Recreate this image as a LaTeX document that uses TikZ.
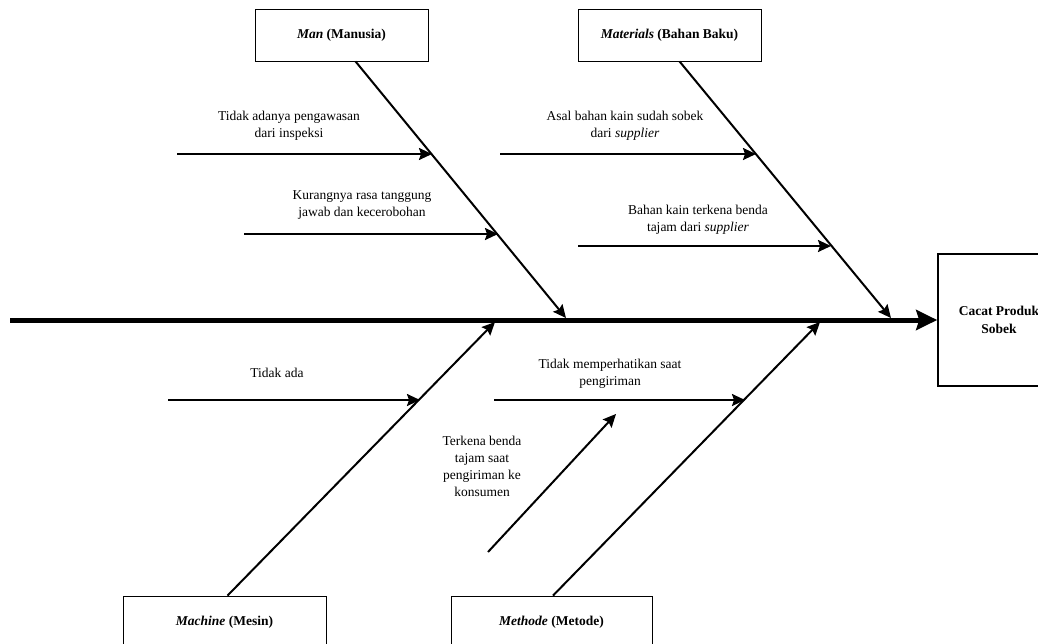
\documentclass[tikz,border=0pt]{standalone}
\usepackage{fontspec}
\setmainfont{Liberation Serif}
\usetikzlibrary{arrows.meta}
\usetikzlibrary{positioning}
\tikzset{cause node/.style={rectangle,draw,line width=0.8pt,minimum height=52pt,inner sep=0pt,font=\fontsize{13.5}{17.5}\selectfont\bfseries},
  effect node/.style={rectangle,draw,line width=1.6pt,minimum width=122pt,minimum height=132pt,align=center,inner sep=0pt,font=\fontsize{13.5}{17.5}\selectfont\bfseries},
  sub node/.style={align=center,inner sep=0pt,font=\fontsize{13.5}{17}\selectfont},
  spine/.style={line width=5pt,-{Stealth[length=21pt,width=20pt,inset=3pt]}},
  bone/.style={line width=2pt,-{Stealth[length=13pt,width=12pt,inset=2pt]}},}

\begin{document}
\begin{tikzpicture}[x=1pt,y=-1pt]
          \clip (0,0) rectangle (1038,643);
          \node[cause node,minimum width=173pt] (man) at (341.5,35) {\textit{Man} (Manusia)};
          \node[cause node,minimum width=183pt] (mat) at (669.5,35) {\textit{Materials} (Bahan Baku)};
          \node[cause node,minimum width=203pt] (mach) at (224.5,622) {\textit{Machine} (Mesin)};
          \node[cause node,minimum width=201pt] (meth) at (551.5,622) {\textit{Methode} (Metode)};
          \node[effect node] (eff) at (999,320) {Cacat Produk\\Sobek};

          % spine and main bones
          \coordinate (tail) at (10,320);
          \coordinate (manend) at (566,318);
          \coordinate (matend) at (891,318);
          \coordinate (machend) at (495,322);
          \coordinate (methend) at (820,322);
          \draw[spine] (tail) -- (eff.west);
          \draw[bone] ([xshift=14pt]man.south) -- (manend);
          \draw[bone] ([xshift=10pt]mat.south) -- (matend);
          \draw[bone] ([xshift=3pt]mach.north) -- (machend);
          \draw[bone] ([xshift=1.5pt]meth.north) -- (methend);

          % sub causes
          \coordinate (a1) at (177,154);  \coordinate (b1) at (432,154);
          \coordinate (a2) at (244,234);  \coordinate (b2) at (498,234);
          \coordinate (a3) at (500,154);  \coordinate (b3) at (756,154);
          \coordinate (a4) at (578,246);  \coordinate (b4) at (831,246);
          \coordinate (a5) at (168,400);  \coordinate (b5) at (420,400);
          \coordinate (a6) at (494,400);  \coordinate (b6) at (745,400);
          \coordinate (a7) at (488,552);  \coordinate (b7) at (616,414);
          \path[bone]
          (a1) edge (b1)
          (a2) edge (b2)
          (a3) edge (b3)
          (a4) edge (b4)
          (a5) edge (b5)
          (a6) edge (b6)
          (a7) edge (b7);

          \node[sub node] (t1) at (289,126) {Tidak adanya pengawasan\\dari inspeksi};
          \node[sub node] (t2) at (362,205.5) {Kurangnya rasa tanggung\\jawab dan kecerobohan};
          \node[sub node] (t3) at (625,126) {Asal bahan kain sudah sobek\\dari \textit{supplier}};
          \node[sub node] (t4) at (698,219.5) {Bahan kain terkena benda\\tajam dari \textit{supplier}};
          \node[sub node] (t5) at (277,373) {Tidak ada};
          \node[sub node] (t6) at (610,373.5) {Tidak memperhatikan saat\\pengiriman};
          \node[sub node] (t7) at (482,466.5) {Terkena benda\\tajam saat\\pengiriman ke\\konsumen};
        \end{tikzpicture}
\end{document}
